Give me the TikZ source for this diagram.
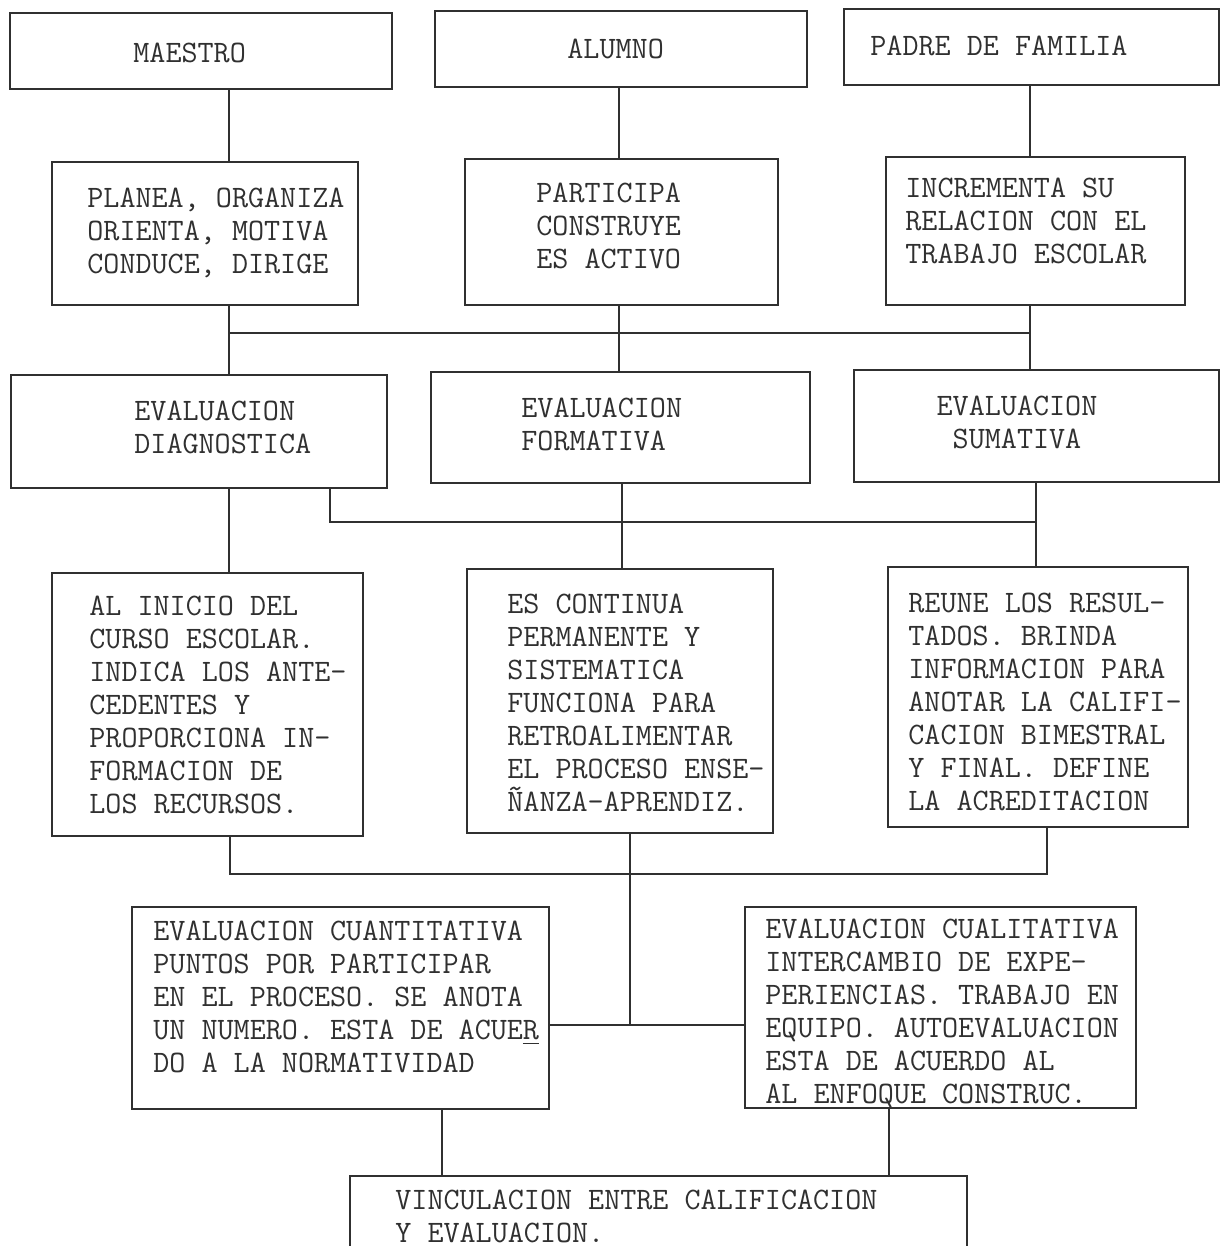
\documentclass[tikz,border=0pt]{standalone}
\usepackage{fontspec}
\usetikzlibrary{fit}

\definecolor{ink}{HTML}{303030}
\tikzset{
  box/.style={draw=ink, line width=1.4pt, inner sep=0pt},
  txt/.style={text=ink, font=\ttfamily\fontsize{15.6}{16.5}\selectfont, align=left, inner sep=0pt, anchor=north west},
  link/.style={draw=ink, line width=1.4pt},
}

\begin{document}
\begin{tikzpicture}[x=0.5pt, y=-0.5pt]
      \fill[white] (0,0) rectangle (1222,1246);
      \useasboundingbox (0,0) rectangle (1222,1246);

      % nodes %
      \node[box, fit={(10,13) (392,89)}] (maestro) {};
      \node[box, fit={(435,11) (807,87)}] (alumno) {};
      \node[box, fit={(844,9) (1219,85)}] (padre) {};
      \node[box, fit={(52,162) (358,305)}] (planea) {};
      \node[box, fit={(465,159) (778,305)}] (participa) {};
      \node[box, fit={(886,157) (1185,305)}] (incrementa) {};
      \node[box, fit={(11,375) (387,488)}] (diag) {};
      \node[box, fit={(431,372) (810,483)}] (formativa) {};
      \node[box, fit={(854,370) (1219,482)}] (sumativa) {};
      \node[box, fit={(52,573) (363,836)}] (inicio) {};
      \node[box, fit={(467,569) (773,833)}] (continua) {};
      \node[box, fit={(888,567) (1188,827)}] (reune) {};
      \node[box, fit={(132,907) (549,1109)}] (cuanti) {};
      \node[box, fit={(745,907) (1136,1108)}] (cuali) {};
      \node[box, fit={(350,1176) (967,1290)}] (vincul) {};

      % texts %
      \node[txt] (tmaestro) at (133,43) {MAESTRO};
      \node[txt] (talumno) at (567,39) {ALUMNO};
      \node[txt] (tpadre) at (870,36) {PADRE DE FAMILIA};
      \node[txt] (tplanea) at (87,188) {PLANEA, ORGANIZA\\ORIENTA, MOTIVA\\CONDUCE, DIRIGE};
      \node[txt] (tparticipa) at (536,183) {PARTICIPA\\CONSTRUYE\\ES ACTIVO};
      \node[txt] (tincrementa) at (905,178) {INCREMENTA SU\\RELACION CON EL\\TRABAJO ESCOLAR};
      \node[txt] (tdiag) at (134,401) {EVALUACION\\DIAGNOSTICA};
      \node[txt] (tformativa) at (521,398) {EVALUACION\\FORMATIVA};
      \node[txt, align=center, anchor=north] (tsumativa) at (1017,396) {EVALUACION\\SUMATIVA};
      \node[txt] (tinicio) at (89,596) {AL INICIO DEL\\CURSO ESCOLAR.\\INDICA LOS ANTE-\\CEDENTES Y\\PROPORCIONA IN-\\FORMACION DE\\LOS RECURSOS.};
      \node[txt] (tcontinua) at (507,594) {ES CONTINUA\\PERMANENTE Y\\SISTEMATICA\\FUNCIONA PARA\\RETROALIMENTAR\\EL PROCESO ENSE-\\ÑANZA-APRENDIZ.};
      \node[txt] (treune) at (908,593) {REUNE LOS RESUL-\\TADOS. BRINDA\\INFORMACION PARA\\ANOTAR LA CALIFI-\\CACION BIMESTRAL\\Y FINAL. DEFINE\\LA ACREDITACION};
      \node[txt] (tcuanti) at (153,921) {EVALUACION CUANTITATIVA\\PUNTOS POR PARTICIPAR\\EN EL PROCESO. SE ANOTA\\UN NUMERO. ESTA DE ACUE\underline{R}\\DO A LA NORMATIVIDAD};
      \node[txt] (tcuali) at (765,919) {EVALUACION CUALITATIVA\\INTERCAMBIO DE EXPE-\\PERIENCIAS. TRABAJO EN\\EQUIPO. AUTOEVALUACION\\ESTA DE ACUERDO AL\\AL ENFOQUE CONSTRUC.};
      \node[txt] (tvincul) at (395,1190) {VINCULACION ENTRE CALIFICACION\\Y EVALUACION.};

      % junctions %
      \coordinate (c1) at (229,333);
      \coordinate (c2) at (619,333);
      \coordinate (c3) at (1030,333);
      \coordinate (d1) at (330,522);
      \coordinate (d2) at (622,522);
      \coordinate (d3) at (1036,522);
      \coordinate (e1) at (230,874);
      \coordinate (e2) at (630,874);
      \coordinate (e3) at (1047,874);
      \coordinate (e4) at (630,1025);
      \coordinate (f1) at (442,1140);
      \coordinate (f2) at (889,1140);

      % edges %
      \draw[link] (maestro.south -| c1) -- (planea.north -| c1);
      \draw[link] (alumno.south -| c2) -- (participa.north -| c2);
      \draw[link] (padre.south -| c3) -- (incrementa.north -| c3);
      \draw[link] (planea.south -| c1) -- (c1) -- (c3) -- (incrementa.south -| c3);
      \draw[link] (participa.south -| c2) -- (formativa.north -| c2);
      \draw[link] (c1) -- (diag.north -| c1);
      \draw[link] (c3) -- (sumativa.north -| c3);
      \draw[link] (diag.south -| d1) -- (d1) -- (d3);
      \draw[link] (sumativa.south -| d3) -- (reune.north -| d3);
      \draw[link] (formativa.south -| d2) -- (continua.north -| d2);
      \draw[link] (diag.south -| c1) -- (inicio.north -| c1);
      \draw[link] (inicio.south -| e1) -- (e1) -- (e3) -- (reune.south -| e3);
      \draw[link] (continua.south -| e2) -- (e4);
      \draw[link] (cuanti.east |- e4) -- (cuali.west |- e4);
      \draw[link] (cuanti.south -| f1) -- (vincul.north -| f1);
      \draw[link] (cuali.south -| f2) -- (vincul.north -| f2);
\end{tikzpicture}
\end{document}
